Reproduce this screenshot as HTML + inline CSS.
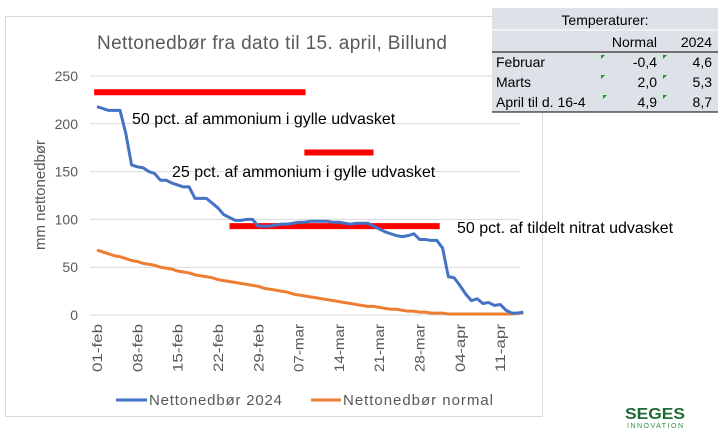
<!DOCTYPE html>
<html><head><meta charset="utf-8"><style>
body{margin:0;width:718px;height:432px;background:#fff;font-family:"Liberation Sans",Arial,sans-serif;overflow:hidden;position:relative}
svg{position:absolute;left:0;top:0}
</style></head><body>
<svg width="718" height="432">
<rect x="5.5" y="16.5" width="537" height="400" fill="#fff" stroke="#d9d9d9"/>
<text x="97" y="49" font-size="19" fill="#595959" textLength="350">Nettonedbør fra dato til 15. april, Billund</text>
<text transform="translate(45,195) rotate(-90)" text-anchor="middle" font-size="15" fill="#595959">mm nettonedbør</text>
<g id="grid"></g><g id="yt"></g><g id="xt"></g><g id="red"></g><g id="lines"></g>
<text x="132" y="124" font-size="16" fill="#000">50 pct. af ammonium i gylle udvasket</text>
<text x="172" y="177" font-size="16" fill="#000">25 pct. af ammonium i gylle udvasket</text>
<text x="457" y="233" font-size="16" fill="#000">50 pct. af tildelt nitrat udvasket</text>
<g>
<line x1="116" y1="400" x2="147" y2="400" stroke="#4472c4" stroke-width="3"/>
<text x="149" y="405" font-size="15" fill="#595959" textLength="133">Nettonedbør 2024</text>
<line x1="311" y1="400" x2="341" y2="400" stroke="#ed7d31" stroke-width="3"/>
<text x="343" y="405" font-size="15" fill="#595959" textLength="150">Nettonedbør normal</text>
</g>
<g>
<rect x="492" y="8" width="226" height="104" fill="#dde1e8"/>
<line x1="492" y1="30" x2="718" y2="30" stroke="#fff"/>
<line x1="492" y1="52" x2="718" y2="52" stroke="#000"/>
<line x1="492" y1="112" x2="718" y2="112" stroke="#000"/>
<g font-size="14" fill="#000">
<text x="605" y="25" text-anchor="middle">Temperaturer:</text>
<text x="657" y="47" text-anchor="end">Normal</text><text x="712" y="47" text-anchor="end">2024</text>
<text x="496" y="67">Februar</text><text x="657" y="67" text-anchor="end">-0,4</text><text x="712" y="67" text-anchor="end">4,6</text>
<text x="496" y="87">Marts</text><text x="657" y="87" text-anchor="end">2,0</text><text x="712" y="87" text-anchor="end">5,3</text>
<text x="496" y="107">April til d. 16-4</text><text x="657" y="107" text-anchor="end">4,9</text><text x="712" y="107" text-anchor="end">8,7</text>
</g>
<g fill="#1a9a1a"><polygon points="601,55 605,55 601,59"/><polygon points="663,55 667,55 663,59"/><polygon points="601,75 605,75 601,79"/><polygon points="663,75 667,75 663,79"/><polygon points="603,95 607,95 603,99"/><polygon points="663,95 667,95 663,99"/></g>
</g>
<g>
<text x="655" y="419" text-anchor="middle" font-size="16" font-weight="bold" fill="#1f6b35" textLength="60" lengthAdjust="spacingAndGlyphs">SEGES</text>
<text x="655" y="428" text-anchor="middle" font-size="7" fill="#2e8b4a" textLength="56">INNOVATION</text>
</g>
</svg>
<script>
const yTicks=[0,50,100,150,200,250];
const xLabels=["01-feb","08-feb","15-feb","22-feb","29-feb","07-mar","14-mar","21-mar","28-mar","04-apr","11-apr"];
const net2024=[218,216,214,214,214,190,157,155,154,150,148,141,141,138,136,134,134,122,122,122,117,112,105,102,99,99,100,100,93,93,93,94,95,95,96,97,97,98,98,98,98,97,97,96,95,96,96,96,93,90,87,85,83,82,83,85,79,79,78,78,70,40,39,31,22,15,17,12,13,10,11,5,2,2,3];
const netNormal=[68,66,64,62,61,59,57,56,54,53,52,50,49,48,46,45,44,42,41,40,39,37,36,35,34,33,32,31,30,28,27,26,25,24,22,21,20,19,18,17,16,15,14,13,12,11,10,9,9,8,7,6,6,5,4,4,3,3,2,2,2,1,1,1,1,1,1,1,1,1,1,1,1,2,2];
const redLevels=[233,170,93];
const redStart=[-0.5,36,23];
const redEnd=[36.2,48,59.5];
const NS="http://www.w3.org/2000/svg";
const y=v=>315-v*0.956, x=d=>97+d*5.76;
function mk(t,a,p){const e=document.createElementNS(NS,t);for(const k in a)e.setAttribute(k,a[k]);document.getElementById(p).appendChild(e);return e;}
yTicks.forEach(v=>{
 const g=mk("line",{x1:90,x2:520,y1:y(v),y2:y(v),stroke:"#d9d9d9"},"grid");
 
 
 const t=mk("text",{x:78,y:y(v)+5,"text-anchor":"end","font-size":14,fill:"#595959"},"yt");t.textContent=v;
 
 
});
xLabels.forEach((l,i)=>{
 const t=mk("text",{transform:`translate(${x(i*7)+5},372) rotate(-90)`,"font-size":14,fill:"#595959",textLength:48,lengthAdjust:"spacingAndGlyphs"},"xt");t.textContent=l;
 
 
});
redLevels.forEach((v,i)=>{
 const r=mk("line",{x1:x(redStart[i]),x2:x(redEnd[i]),y1:y(v),y2:y(v),stroke:"#ff0000","stroke-width":6},"red");
 
 
});
const pn=mk("polyline",{points:netNormal.map((v,i)=>x(i)+","+y(v)).join(" "),fill:"none",stroke:"#ed7d31","stroke-width":3,"stroke-linejoin":"round"},"lines");


const p4=mk("polyline",{points:net2024.map((v,i)=>x(i)+","+y(v)).join(" "),fill:"none",stroke:"#4472c4","stroke-width":3,"stroke-linejoin":"round"},"lines");


</script>
</body></html>
